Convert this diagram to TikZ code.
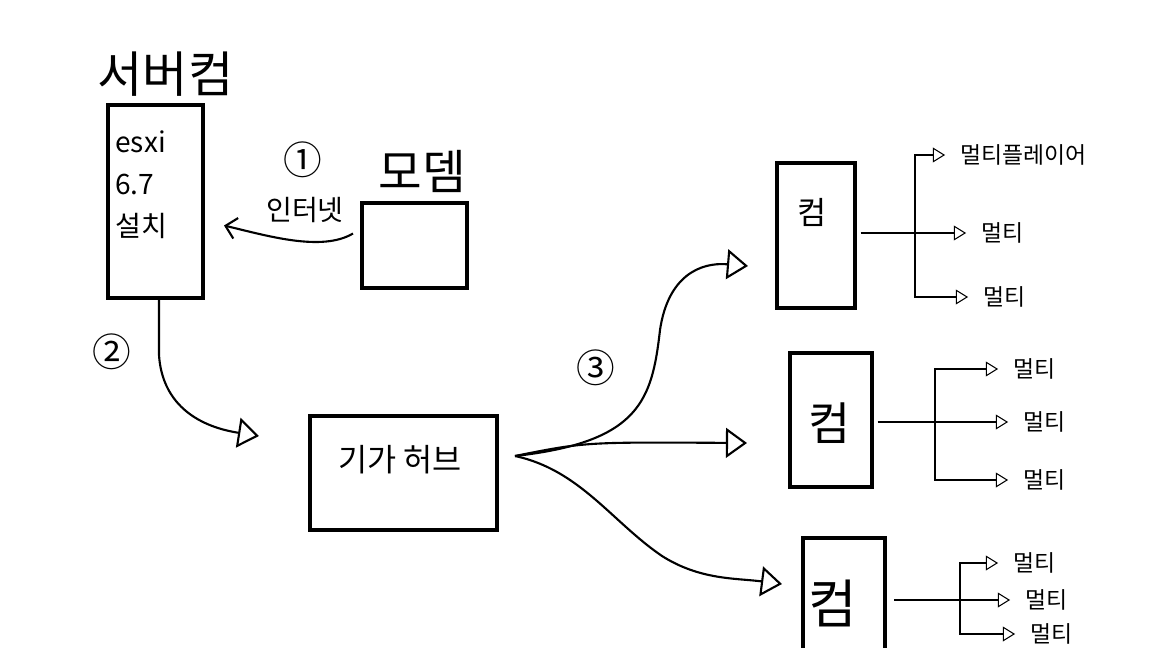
\documentclass[tikz,border=0pt]{standalone}
\usepackage{fontspec}
\setmainfont{Noto Sans CJK KR}
\usetikzlibrary{positioning, arrows.meta}

\begin{document}
\begin{tikzpicture}[x=0.02cm, y=-0.02cm,
    box/.style={draw, line width=2.3pt, inner sep=0pt},
    wire/.style={line width=1.2pt},
    thinwire/.style={line width=0.6pt},
    bigtip/.style={-{Triangle[open, length=12pt, width=17pt]}},
    smalltip/.style={thinwire, -{Triangle[open, length=7pt, width=8.5pt]}, shorten >=8.5pt},
    lbl/.style={font=\fontsize{13}{15}\selectfont, inner sep=0pt, anchor=west},
    numlbl/.style={font=\fontsize{22}{24}\selectfont}]
  \clip (0,0) rectangle (1152,648);

  % server and modem
  \node[box, minimum width=1.9cm, minimum height=3.86cm] (server) at (155.5,201.5) {};
  \node[font=\fontsize{28}{32}\selectfont, above=0pt of server, xshift=0.2cm] (serverlbl) {서버컴};
  \node[font=\fontsize{16}{24}\selectfont, align=left, anchor=north west, inner sep=0pt] (os) at (115,130) {esxi\\6.7\\설치};
  \node[box, minimum width=2.1cm, minimum height=1.7cm] (modem) at (414.5,245.5) {};
  \node[font=\fontsize{27}{30}\selectfont, above=1pt of modem, xshift=0.15cm] (modemlbl) {모뎀};
  \node[numlbl] (n1) at (303,160) {①};
  \node[font=\fontsize{16}{18}\selectfont] (inet) at (305,210) {인터넷};
  \draw[wire, -{Straight Barb[length=6pt, width=12pt]}] ([shift={(-7,-12)}]modem.west)
    .. controls (322,252) and (268,236) .. ([shift={(19,24)}]server.east);

  % hub
  \node[numlbl] (n2) at (112,352) {②};
  \node[box, minimum width=3.74cm, minimum height=2.28cm] (hub) at (403.5,473) {};
  \node[font=\fontsize{18}{20}\selectfont] (hublbl) at (400,460) {기가 허브};
  \coordinate (hubin) at (259,436);
  \draw[wire, bigtip] ([xshift=2]server.south) -- (159,355)
    .. controls (162,402) and (195,426) .. (hubin);

  % computers
  \node[numlbl] (n3) at (596,368) {③};
  \node[box, minimum width=1.56cm, minimum height=2.9cm] (c1) at (816,235.5) {};
  \node[box, minimum width=1.64cm, minimum height=2.68cm] (c2) at (831,420) {};
  \node[box, minimum width=1.64cm, minimum height=2.6cm] (c3) at (844,603) {};
  \node[font=\fontsize{18}{20}\selectfont] (c1lbl) at (812,212) {컴};
  \node[font=\fontsize{26}{28}\selectfont] (c2lbl) at (830,423) {컴};
  \node[font=\fontsize{30}{32}\selectfont] (c3lbl) at (833,603) {컴};
  \coordinate (hubout) at (515,456);
  \coordinate (tip1) at (748,266);
  \coordinate (tip2) at (747,443);
  \coordinate (tip3) at (782,584);
  \draw[wire, bigtip] (hubout) .. controls (640,442) and (652,400) .. (660,330)
    .. controls (668,276) and (700,262) .. (tip1);
  \draw[wire, bigtip] (hubout) .. controls (585,442) .. (tip2);
  \draw[wire, bigtip] (hubout) .. controls (580,470) and (612,522) .. (662,556)
    .. controls (700,580) and (735,578) .. (tip3);

  % sessions
  \node[lbl] (l11) at (960,155) {멀티플레이어};
  \node[lbl] (l12) at (981,233) {멀티};
  \node[lbl] (l13) at (983,297) {멀티};
  \node[lbl] (l21) at (1013,369) {멀티};
  \node[lbl] (l22) at (1023,422) {멀티};
  \node[lbl] (l23) at (1023,480) {멀티};
  \node[lbl] (l31) at (1013,563) {멀티};
  \node[lbl] (l32) at (1025,600) {멀티};
  \node[lbl] (l33) at (1030,634) {멀티};
  \coordinate (b1) at (915,233);
  \coordinate (b2) at (935,422);
  \coordinate (b3) at (960,600);
  \draw[thinwire] ([xshift=2]c1.east |- b1) -- (b1);
  \draw[thinwire] ([xshift=2]c2.east |- b2) -- (b2);
  \draw[thinwire] ([xshift=4]c3.east |- b3) -- (b3);
  \path (b1) edge[smalltip] (l12.west)
             edge[smalltip, to path={|- (\tikztotarget)}] (l11.west)
             edge[smalltip, to path={|- (\tikztotarget)}] (l13.west)
        (b2) edge[smalltip] (l22.west)
             edge[smalltip, to path={|- (\tikztotarget)}] (l21.west)
             edge[smalltip, to path={|- (\tikztotarget)}] (l23.west)
        (b3) edge[smalltip] (l32.west)
             edge[smalltip, to path={|- (\tikztotarget)}] (l31.west)
             edge[smalltip, to path={|- (\tikztotarget)}] (l33.west);
\end{tikzpicture}
\end{document}
